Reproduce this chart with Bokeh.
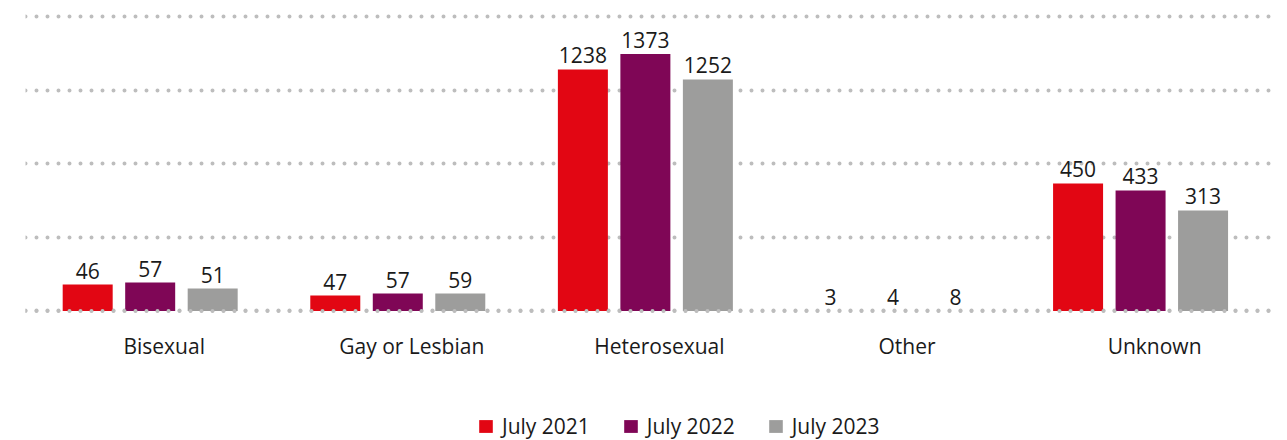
from bokeh.plotting import figure
from bokeh.models import ColumnDataSource, Range1d, FixedTicker, Span, Legend, LegendItem
from bokeh.transform import dodge
from bokeh.core.properties import value
from bokeh.embed import file_html
from bokeh.resources import INLINE

categories = ["Bisexual", "Gay or Lesbian", "Heterosexual", "Other", "Unknown"]
series = ["July 2021", "July 2022", "July 2023"]

# Printed data labels
labels_2021 = [46, 47, 1238, 3, 450]
labels_2022 = [57, 57, 1373, 4, 433]
labels_2023 = [51, 59, 1252, 8, 313]

# Bar lengths as drawn in the source image (units where gridlines sit 400 apart);
# in the source the drawn bars do not track their printed labels exactly.
bars_2021 = [144, 84, 1314, 0, 694]
bars_2022 = [155, 95, 1398, 0, 656]
bars_2023 = [122, 95, 1260, 0, 547]

grid_ticks = [0, 400, 800, 1200, 1600]

colors = ["#E20613", "#7F0656", "#9D9D9C"]
TEXT = "#1a1a1a"
FONT = "Open Sans"

PX = 247.6  # pixels per category step
offsets = [-62.5 / PX, 0.0, 62.5 / PX]
bar_w = 50 / PX

p = figure(width=1287, height=440, output_backend="svg", toolbar_location=None,
           x_range=Range1d(-0.5036, 4.549), y_range=Range1d(-704.6, 1689.4),
           min_border_left=25, min_border_right=11, min_border_top=0, min_border_bottom=0)
p.outline_line_color = None
p.xaxis.visible = False
p.yaxis.visible = False
p.xgrid.visible = False
p.ygrid.ticker = FixedTicker(ticks=grid_ticks)
p.ygrid.grid_line_color = "#BDBDBD"
p.ygrid.grid_line_width = 4
p.ygrid.grid_line_dash = "0 11"
p.ygrid.grid_line_cap = "round"

idx = list(range(len(categories)))
bars = [bars_2021, bars_2022, bars_2023]
labs = [labels_2021, labels_2022, labels_2023]

renderers = []
for i in range(3):
    src = ColumnDataSource(dict(x=idx, top=bars[i], lab=[str(v) for v in labs[i]]))
    r = p.vbar(x=dodge("x", offsets[i], range=p.x_range), top="top", width=bar_w,
               fill_color=colors[i], line_color=None, source=src)
    renderers.append(r)
    p.text(x=dodge("x", offsets[i], range=p.x_range), y="top", text="lab", source=src,
           text_align="center", text_baseline="alphabetic", y_offset=-14,
           text_font=value(FONT), text_font_size="21px", text_color=TEXT)

cat_src = ColumnDataSource(dict(x=idx, y=[0] * len(categories), name=categories))
p.text(x="x", y="y", text="name", source=cat_src, x_offset=14, y_offset=35,
       text_align="center", text_baseline="alphabetic",
       text_font=value(FONT), text_font_size="21px", text_color=TEXT)

p.add_layout(Span(location=0, dimension="width", line_color="#BDBDBD", line_width=4,
                  line_dash="0 11", line_cap="round", level="overlay"))

legend = Legend(items=[LegendItem(label=series[i], renderers=[renderers[i]]) for i in range(3)],
                orientation="horizontal", location=(452, 0),
                glyph_width=17, glyph_height=16, label_standoff=8, spacing=32,
                padding=0, margin=0, border_line_color=None, background_fill_alpha=0,
                label_text_font=FONT, label_text_font_size="21px", label_text_color=TEXT)
p.add_layout(legend)

open("out.html", "w").write(file_html(p, INLINE))
